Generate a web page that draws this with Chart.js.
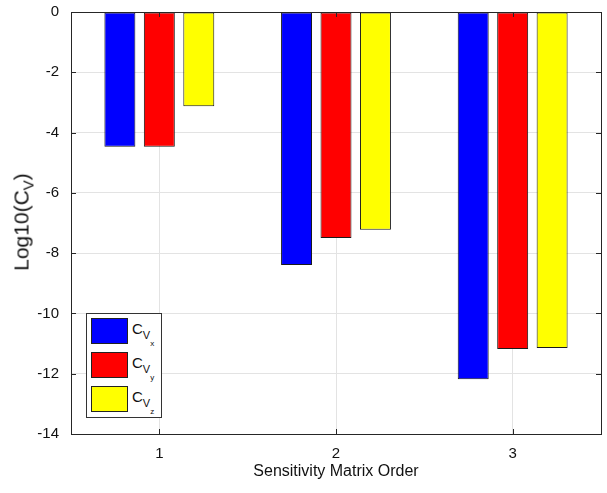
<!DOCTYPE html>
<html>
<head>
<meta charset="utf-8">
<script src="https://cdn.jsdelivr.net/npm/chart.js@4/dist/chart.umd.min.js"></script>
<style>
    body { margin: 0; background: #fff; font-family: "Liberation Sans", Arial, sans-serif; }
    #wrap { position: relative; width: 607px; height: 493px; }
    #ylabel {
        position: absolute; left: 23px; top: 222px;
        transform: translate(-50%, -50%) rotate(-90deg);
        font-size: 21px; white-space: nowrap; color: #111;
    }
    #ylabel sub { font-size: 15px; vertical-align: -5px; }
    #legend {
        position: absolute; left: 86px; top: 313px; width: 76px; height: 105px;
        border: 1px solid #333; background: #fff; box-sizing: border-box;
    }
    .item { position: absolute; left: 4px; height: 26px; }
    .swatch { position: absolute; left: 0; top: 0; width: 37px; height: 26px; border: 1px solid #222; box-sizing: border-box; }
    .lbl { position: absolute; left: 41px; top: 2px; font-size: 15px; color: #111; white-space: nowrap; }
    .lbl .s1 { font-size: 11px; position: relative; top: 5px; }
    .lbl .s2 { font-size: 8px; position: relative; top: 12px; }
</style>
</head>
<body>
<div id="wrap">
    <canvas id="chart"></canvas>
    <div id="ylabel">Log10(C<sub>V</sub>)</div>
    <div id="legend"></div>
</div>
<script>
const categories = ['1', '2', '3'];
const seriesNames = ['x', 'y', 'z'];
const cvx = [-4.47, -8.39, -12.18];
const cvy = [-4.47, -7.50, -11.18];
const cvz = [-3.13, -7.22, -11.15];
const yTicks = [0, -2, -4, -6, -8, -10, -12, -14];

const colors = ['#0000ff', '#ff0000', '#ffff00'];

// legend built as html so the nested subscripts stay real text
const legend = document.getElementById('legend');
seriesNames.forEach((name, i) => {
    const item = document.createElement('div');
    item.className = 'item';
    item.style.top = (4 + i * 34) + 'px';
    item.innerHTML = `<div class="swatch" style="background:${colors[i]}"></div>
        <div class="lbl">C<span class="s1">V</span><span class="s2">${name}</span></div>`;
    legend.appendChild(item);
});

// box round the plot plus inward ticks, like the matlab axes
const boxPlugin = {
    id: 'box',
    afterDraw(chart) {
        const { ctx, chartArea: a, scales } = chart;
        ctx.save();
        ctx.strokeStyle = '#262626';
        ctx.lineWidth = 1;
        ctx.strokeRect(a.left + 0.5, a.top + 0.5, a.right - a.left, a.bottom - a.top);
        ctx.beginPath();
        yTicks.forEach(v => {
            const y = Math.round(scales.y.getPixelForValue(v)) + 0.5;
            ctx.moveTo(a.left, y); ctx.lineTo(a.left + 5, y);
            ctx.moveTo(a.right, y); ctx.lineTo(a.right - 5, y);
        });
        categories.forEach((c, i) => {
            const x = Math.round(scales.x.getPixelForValue(i)) + 0.5;
            ctx.moveTo(x, a.bottom); ctx.lineTo(x, a.bottom - 5);
            ctx.moveTo(x, a.top); ctx.lineTo(x, a.top + 5);
        });
        ctx.stroke();
        ctx.restore();
    }
};

const makeSet = (data, i) => ({
    label: 'C_V' + seriesNames[i],
    data: data,
    backgroundColor: colors[i],
    borderColor: '#1a1a1a',
    borderWidth: 1,
    borderSkipped: false,
    barPercentage: 0.785,
    categoryPercentage: 0.67
});

new Chart(document.getElementById('chart'), {
    type: 'bar',
    data: {
        labels: categories,
        datasets: [makeSet(cvx, 0), makeSet(cvy, 1), makeSet(cvz, 2)]
    },
    options: {
        responsive: true,
        maintainAspectRatio: false,
        animation: false,
        layout: { padding: { top: 12, right: 6, left: 0, bottom: 0 } },
        plugins: {
            legend: { display: false },
            tooltip: { enabled: false }
        },
        scales: {
            x: {
                grid: { color: '#e3e3e3', offset: false, drawTicks: false },
                border: { display: false },
                ticks: { color: '#111', font: { size: 15, family: 'Liberation Sans' }, padding: 11 },
                title: {
                    display: true, text: 'Sensitivity Matrix Order', color: '#111',
                    font: { size: 16, family: 'Liberation Sans' }, padding: { top: 2, bottom: 12 }
                },
                afterFit(scale) { scale.height = 59; }
            },
            y: {
                min: -14, max: 0,
                grid: { color: '#e3e3e3', drawTicks: false },
                border: { display: false },
                afterBuildTicks(scale) { scale.ticks = yTicks.map(v => ({ value: v })); },
                ticks: { color: '#111', font: { size: 15, family: 'Liberation Sans' }, padding: 12 },
                afterFit(scale) {
                    scale.width = 71;
                    // let the layout padding alone decide where the plot top sits
                    scale.paddingTop = 0;
                    scale.paddingBottom = 0;
                }
            }
        }
    },
    plugins: [boxPlugin]
});
</script>
</body>
</html>
